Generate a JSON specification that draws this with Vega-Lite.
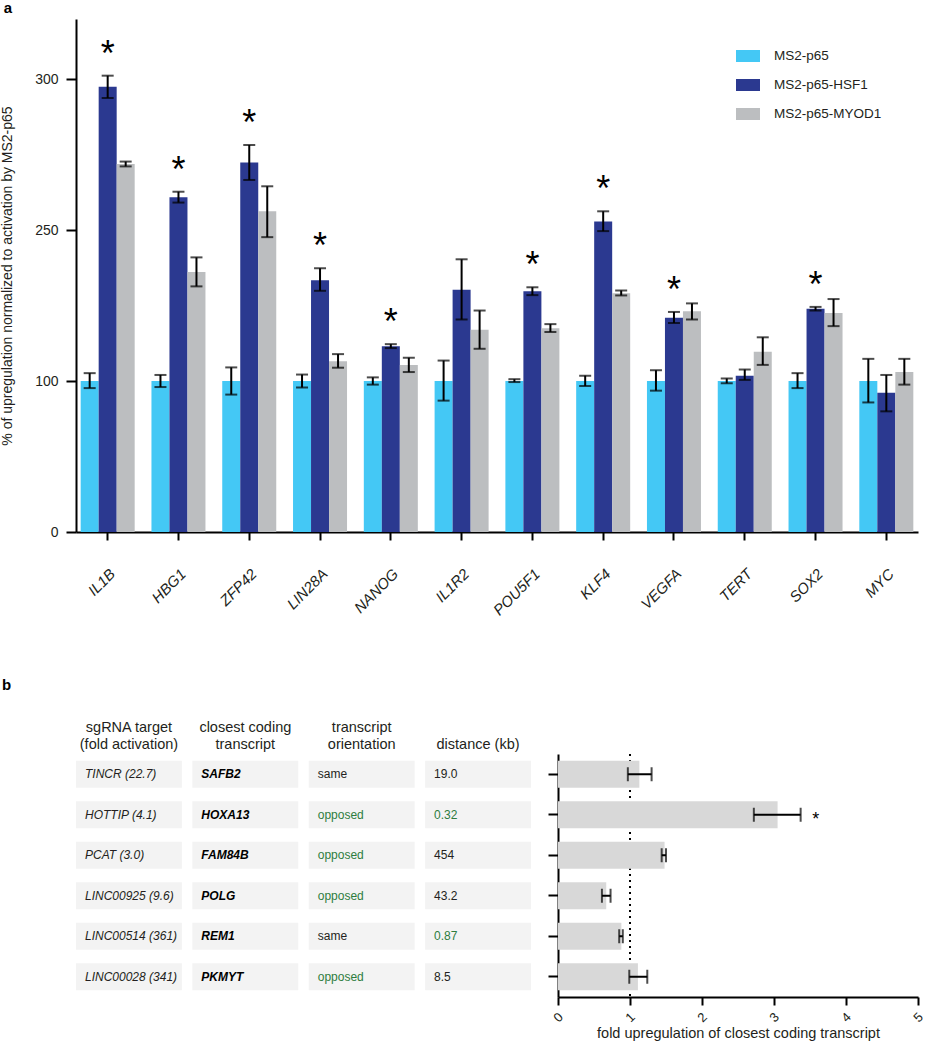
{
  "$schema": "https://vega.github.io/schema/vega-lite/v6.json",
  "padding": {"top": 1, "left": 0, "right": 0, "bottom": 0},
  "bounds": "flush",
  "spacing": 222,
  "config": {
    "font": "Liberation Sans",
    "view": {"stroke": null},
    "axis": {"grid": false, "domainColor": "#000000", "tickColor": "#000000", "labelColor": "#231F20", "titleColor": "#231F20", "titleFontWeight": "normal", "labelFont": "Liberation Sans", "titleFont": "Liberation Sans"},
    "title": {"fontSize": 15, "fontWeight": "bold", "anchor": "start", "frame": "bounds", "color": "#000000"}
  },
  "datasets": {
    "expr": [
      {"gene": "IL1B", "construct": "MS2-p65", "value": 100, "lo": 95.3, "hi": 107.8, "sig": false},
      {"gene": "IL1B", "construct": "MS2-p65-HSF1", "value": 297.5, "lo": 293.8, "hi": 301.2, "sig": true},
      {"gene": "IL1B", "construct": "MS2-p65-MYOD1", "value": 271.9, "lo": 271.1, "hi": 272.7, "sig": false},
      {"gene": "HBG1", "construct": "MS2-p65", "value": 100, "lo": 96, "hi": 106, "sig": false},
      {"gene": "HBG1", "construct": "MS2-p65-HSF1", "value": 260.9, "lo": 259.1, "hi": 262.7, "sig": true},
      {"gene": "HBG1", "construct": "MS2-p65-MYOD1", "value": 208.4, "lo": 194, "hi": 222.8, "sig": false},
      {"gene": "ZFP42", "construct": "MS2-p65", "value": 100, "lo": 91, "hi": 113.5, "sig": false},
      {"gene": "ZFP42", "construct": "MS2-p65-HSF1", "value": 272.4, "lo": 266.6, "hi": 278.2, "sig": true},
      {"gene": "ZFP42", "construct": "MS2-p65-MYOD1", "value": 256.2, "lo": 242.9, "hi": 264.5, "sig": false},
      {"gene": "LIN28A", "construct": "MS2-p65", "value": 100, "lo": 95.7, "hi": 106.4, "sig": false},
      {"gene": "LIN28A", "construct": "MS2-p65-HSF1", "value": 200.2, "lo": 189.6, "hi": 212, "sig": true},
      {"gene": "LIN28A", "construct": "MS2-p65-MYOD1", "value": 119.5, "lo": 113.2, "hi": 126.7, "sig": false},
      {"gene": "NANOG", "construct": "MS2-p65", "value": 100, "lo": 97.6, "hi": 103.6, "sig": false},
      {"gene": "NANOG", "construct": "MS2-p65-HSF1", "value": 134.5, "lo": 132.7, "hi": 136.6, "sig": true},
      {"gene": "NANOG", "construct": "MS2-p65-MYOD1", "value": 116, "lo": 108.9, "hi": 123.1, "sig": false},
      {"gene": "IL1R2", "construct": "MS2-p65", "value": 100, "lo": 87, "hi": 120.3, "sig": false},
      {"gene": "IL1R2", "construct": "MS2-p65-HSF1", "value": 190.6, "lo": 161.1, "hi": 220.9, "sig": false},
      {"gene": "IL1R2", "construct": "MS2-p65-MYOD1", "value": 150.8, "lo": 132, "hi": 170, "sig": false},
      {"gene": "POU5F1", "construct": "MS2-p65", "value": 100, "lo": 99.3, "hi": 101.8, "sig": false},
      {"gene": "POU5F1", "construct": "MS2-p65-HSF1", "value": 189.2, "lo": 185.3, "hi": 193.1, "sig": true},
      {"gene": "POU5F1", "construct": "MS2-p65-MYOD1", "value": 152.3, "lo": 148.7, "hi": 156.5, "sig": false},
      {"gene": "KLF4", "construct": "MS2-p65", "value": 100, "lo": 96.7, "hi": 105.3, "sig": false},
      {"gene": "KLF4", "construct": "MS2-p65-HSF1", "value": 252.8, "lo": 248.9, "hi": 256.2, "sig": true},
      {"gene": "KLF4", "construct": "MS2-p65-MYOD1", "value": 187.1, "lo": 185, "hi": 189.9, "sig": false},
      {"gene": "VEGFA", "construct": "MS2-p65", "value": 100, "lo": 93.6, "hi": 110.7, "sig": false},
      {"gene": "VEGFA", "construct": "MS2-p65-HSF1", "value": 162.9, "lo": 157.6, "hi": 168.6, "sig": true},
      {"gene": "VEGFA", "construct": "MS2-p65-MYOD1", "value": 169.3, "lo": 161.1, "hi": 177.1, "sig": false},
      {"gene": "TERT", "construct": "MS2-p65", "value": 100, "lo": 98.5, "hi": 102.5, "sig": false},
      {"gene": "TERT", "construct": "MS2-p65-HSF1", "value": 105.3, "lo": 101.1, "hi": 111.4, "sig": false},
      {"gene": "TERT", "construct": "MS2-p65-MYOD1", "value": 129.1, "lo": 116, "hi": 143.4, "sig": false},
      {"gene": "SOX2", "construct": "MS2-p65", "value": 100, "lo": 95.3, "hi": 107.8, "sig": false},
      {"gene": "SOX2", "construct": "MS2-p65-HSF1", "value": 171.8, "lo": 170, "hi": 173.6, "sig": true},
      {"gene": "SOX2", "construct": "MS2-p65-MYOD1", "value": 167.5, "lo": 154.5, "hi": 181.4, "sig": false},
      {"gene": "MYC", "construct": "MS2-p65", "value": 100, "lo": 85.8, "hi": 122, "sig": false},
      {"gene": "MYC", "construct": "MS2-p65-HSF1", "value": 92.2, "lo": 79.9, "hi": 106, "sig": false},
      {"gene": "MYC", "construct": "MS2-p65-MYOD1", "value": 108.9, "lo": 97.6, "hi": 122, "sig": false}
    ],
    "lnc": [
      {"target": "TINCR", "fold": "22.7", "transcript": "SAFB2", "orientation": "same", "distance": "19.0", "value": 1.13, "lo": 0.97, "hi": 1.3, "sig": false},
      {"target": "HOTTIP", "fold": "4.1", "transcript": "HOXA13", "orientation": "opposed", "distance": "0.32", "value": 3.05, "lo": 2.72, "hi": 3.37, "sig": true},
      {"target": "PCAT", "fold": "3.0", "transcript": "FAM84B", "orientation": "opposed", "distance": "454", "value": 1.48, "lo": 1.44, "hi": 1.5, "sig": false},
      {"target": "LINC00925", "fold": "9.6", "transcript": "POLG", "orientation": "opposed", "distance": "43.2", "value": 0.67, "lo": 0.61, "hi": 0.73, "sig": false},
      {"target": "LINC00514", "fold": "361", "transcript": "REM1", "orientation": "same", "distance": "0.87", "value": 0.88, "lo": 0.85, "hi": 0.9, "sig": false},
      {"target": "LINC00028", "fold": "341", "transcript": "PKMYT", "orientation": "opposed", "distance": "8.5", "value": 1.11, "lo": 0.99, "hi": 1.24, "sig": false}
    ]
  },
  "vconcat": [
    {
      "width": 842,
      "height": 513,
      "title": {"text": "a", "dx": 3, "offset": 3},
      "data": {"name": "expr"},
      "encoding": {
        "x": {
          "field": "gene", "type": "nominal", "sort": null,
          "scale": {"paddingInner": 0.237, "paddingOuter": 0.066},
          "axis": {"title": null, "labelAngle": -45, "labelAlign": "right", "labelBaseline": "top", "labelFontStyle": "italic", "labelFontSize": 15, "labelPadding": 26, "tickSize": 8, "tickWidth": 2, "domainWidth": 2}
        },
        "xOffset": {"field": "construct", "type": "nominal", "sort": ["MS2-p65", "MS2-p65-HSF1", "MS2-p65-MYOD1"], "scale": {"paddingInner": 0, "paddingOuter": 0}}
      },
      "layer": [
        {
          "mark": {"type": "bar"},
          "encoding": {
            "y": {
              "field": "value", "type": "quantitative",
              "scale": {"domain": [0, 100, 250, 320], "range": [513, 362, 211, 0], "nice": false, "zero": false},
              "axis": {"values": [0, 100, 250, 300], "title": "% of upregulation normalized to activation by MS2-p65", "titleFontSize": 14, "titlePadding": 20, "labelFontSize": 14, "labelPadding": 8, "tickSize": 10, "tickWidth": 2, "domainWidth": 2}
            },
            "color": {
              "field": "construct", "type": "nominal",
              "scale": {"domain": ["MS2-p65", "MS2-p65-HSF1", "MS2-p65-MYOD1"], "range": ["#44C8F5", "#2B3990", "#BCBEC0"]},
              "legend": {"title": null, "orient": "none", "legendX": 660, "legendY": 25, "symbolType": "M-1,-0.5H1V0.5H-1Z", "symbolSize": 576, "symbolStrokeWidth": 0, "labelFontSize": 13.5, "labelColor": "#231F20", "rowPadding": 10, "labelOffset": 14, "padding": 0}
            }
          }
        },
        {
          "mark": {"type": "rule", "strokeWidth": 2, "color": "#000000"},
          "encoding": {"y": {"field": "lo", "type": "quantitative"}, "y2": {"field": "hi"}}
        },
        {
          "mark": {"type": "tick", "thickness": 2, "size": 12, "color": "#000000"},
          "encoding": {"y": {"field": "lo", "type": "quantitative"}}
        },
        {
          "mark": {"type": "tick", "thickness": 2, "size": 12, "color": "#000000"},
          "encoding": {"y": {"field": "hi", "type": "quantitative"}}
        },
        {
          "transform": [{"filter": "datum.sig"}],
          "mark": {"type": "text", "text": "*", "fontSize": 36, "baseline": "alphabetic", "align": "center", "dy": -10, "color": "#000000"},
          "encoding": {"y": {"field": "hi", "type": "quantitative"}}
        }
      ]
    },
    {
      "hconcat": [
        {
          "width": 455,
          "height": 243,
          "title": {"text": "b", "dx": -74, "offset": 26},
          "data": {"name": "lnc"},
          "transform": [
            {"calculate": "datum.target + ' (' + datum.fold + ')'", "as": "c1"},
            {"fold": ["c1", "transcript", "orientation", "distance"], "as": ["col", "txt"]}
          ],
          "encoding": {
            "y": {"field": "target", "type": "nominal", "sort": null, "scale": {"paddingInner": 0.33, "paddingOuter": 0.165}, "axis": null}
          },
          "layer": [
            {
              "mark": {"type": "rect", "color": "#F3F3F3"},
              "encoding": {
                "x": {
                  "field": "col", "type": "nominal", "sort": ["c1", "transcript", "orientation", "distance"],
                  "scale": {"paddingInner": 0.09, "paddingOuter": 0},
                  "axis": {"orient": "top", "title": null, "domain": false, "ticks": false, "tickSize": 0, "labelPadding": 23, "labelAngle": 0, "labelAlign": "center", "labelFontSize": 14.5, "labelLineHeight": 17, "labelBaseline": "alphabetic", "labelColor": "#231F20",
                    "labelExpr": "datum.value == 'c1' ? ['sgRNA target', '(fold activation)'] : datum.value == 'transcript' ? ['closest coding', 'transcript'] : datum.value == 'orientation' ? ['transcript', 'orientation'] : ['', 'distance (kb)']"}
                }
              }
            },
            {
              "transform": [{"filter": "datum.col == 'c1'"}],
              "mark": {"type": "text", "align": "left", "dx": 9, "fontSize": 12, "fontStyle": "italic", "color": "#231F20"},
              "encoding": {"x": {"field": "col", "type": "nominal", "sort": ["c1", "transcript", "orientation", "distance"], "bandPosition": 0}, "text": {"field": "txt"}}
            },
            {
              "transform": [{"filter": "datum.col == 'transcript'"}],
              "mark": {"type": "text", "align": "left", "dx": 9, "fontSize": 12, "fontStyle": "italic", "fontWeight": "bold", "color": "#000000"},
              "encoding": {"x": {"field": "col", "type": "nominal", "sort": ["c1", "transcript", "orientation", "distance"], "bandPosition": 0}, "text": {"field": "txt"}}
            },
            {
              "transform": [{"filter": "datum.col == 'orientation'"}],
              "mark": {"type": "text", "align": "left", "dx": 9, "fontSize": 12},
              "encoding": {"x": {"field": "col", "type": "nominal", "sort": ["c1", "transcript", "orientation", "distance"], "bandPosition": 0}, "text": {"field": "txt"},
                "color": {"condition": {"test": "datum.txt == 'opposed'", "value": "#2E7D3E"}, "value": "#231F20"}}
            },
            {
              "transform": [{"filter": "datum.col == 'distance'"}],
              "mark": {"type": "text", "align": "left", "dx": 9, "fontSize": 12},
              "encoding": {"x": {"field": "col", "type": "nominal", "sort": ["c1", "transcript", "orientation", "distance"], "bandPosition": 0}, "text": {"field": "txt"},
                "color": {"condition": {"test": "toNumber(datum.txt) < 1", "value": "#2E7D3E"}, "value": "#231F20"}}
            }
          ]
        },
        {
          "width": 360,
          "height": 243,
          "data": {"name": "lnc"},
          "layer": [
            {
              "mark": {"type": "rule", "strokeDash": [2, 4], "strokeWidth": 2, "color": "#000000"},
              "encoding": {"x": {"datum": 1, "type": "quantitative"}}
            },
            {
              "mark": {"type": "bar", "color": "#D8D8D8"},
              "encoding": {
                "y": {"field": "target", "type": "nominal", "sort": null, "scale": {"paddingInner": 0.33, "paddingOuter": 0.165},
                  "axis": {"title": null, "labels": false, "tickSize": 10, "tickWidth": 2, "domainWidth": 2}},
                "x": {"field": "value", "type": "quantitative", "scale": {"domain": [0, 5], "nice": false},
                  "axis": {"values": [0, 1, 2, 3, 4, 5], "format": "d", "title": "fold upregulation of closest coding transcript", "titleFontSize": 14.5, "titlePadding": 2, "labelAngle": -45, "labelAlign": "center", "labelBaseline": "middle", "labelFontSize": 13, "labelPadding": 12, "tickSize": 8, "tickWidth": 2, "domainWidth": 2}}
              }
            },
            {
              "mark": {"type": "rule", "strokeWidth": 2, "color": "#000000"},
              "encoding": {"y": {"field": "target", "type": "nominal", "sort": null}, "x": {"field": "lo", "type": "quantitative"}, "x2": {"field": "hi"}}
            },
            {
              "mark": {"type": "tick", "thickness": 2, "size": 14, "color": "#000000"},
              "encoding": {"y": {"field": "target", "type": "nominal", "sort": null}, "x": {"field": "lo", "type": "quantitative"}}
            },
            {
              "mark": {"type": "tick", "thickness": 2, "size": 14, "color": "#000000"},
              "encoding": {"y": {"field": "target", "type": "nominal", "sort": null}, "x": {"field": "hi", "type": "quantitative"}}
            },
            {
              "transform": [{"filter": "datum.sig"}],
              "mark": {"type": "text", "text": "*", "fontSize": 18, "align": "center", "baseline": "middle", "dx": 15, "dy": 5, "color": "#000000"},
              "encoding": {"y": {"field": "target", "type": "nominal", "sort": null}, "x": {"field": "hi", "type": "quantitative"}}
            }
          ]
        }
      ],
      "spacing": 27,
      "bounds": "flush"
    }
  ]
}
